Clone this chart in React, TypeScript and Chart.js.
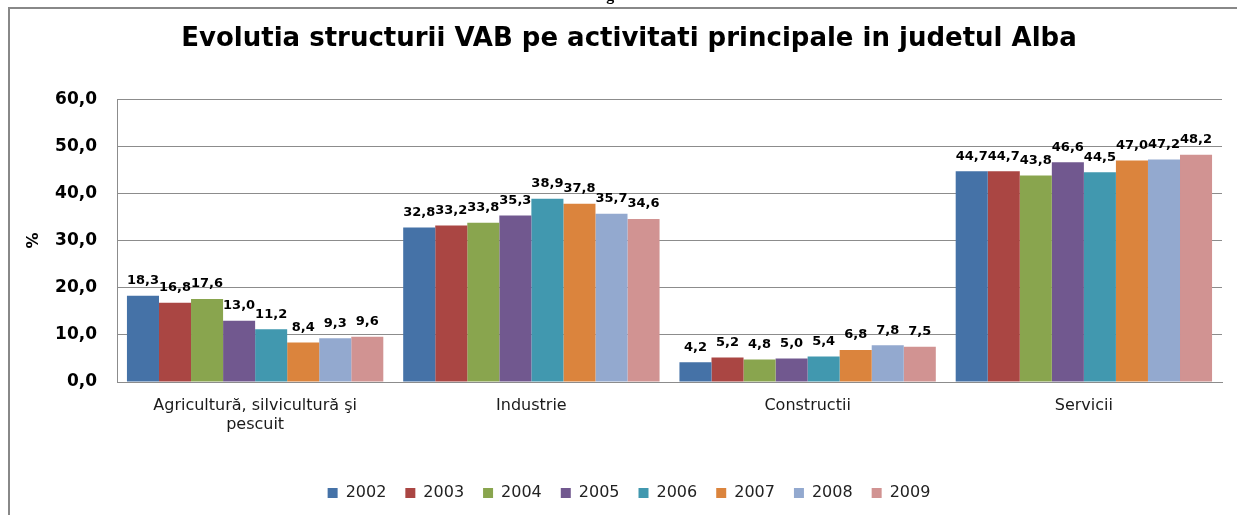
import React, { useEffect, useRef } from "react";
import { Chart, registerables } from "chart.js";

Chart.register(...registerables);

const TITLE = "Evolutia structurii VAB pe activitati principale in judetul Alba";
const FIG_LABEL = "Fig. 3";
const categories: (string | string[])[] = [
  ["Agricultură, silvicultură şi", "pescuit"],
  "Industrie",
  "Constructii",
  "Servicii",
];
const years = ["2002", "2003", "2004", "2005", "2006", "2007", "2008", "2009"];
const v2002 = [18.3, 32.8, 4.2, 44.7];
const v2003 = [16.8, 33.2, 5.2, 44.7];
const v2004 = [17.6, 33.8, 4.8, 43.8];
const v2005 = [13.0, 35.3, 5.0, 46.6];
const v2006 = [11.2, 38.9, 5.4, 44.5];
const v2007 = [8.4, 37.8, 6.8, 47.0];
const v2008 = [9.3, 35.7, 7.8, 47.2];
const v2009 = [9.6, 34.6, 7.5, 48.2];
const seriesValues = [v2002, v2003, v2004, v2005, v2006, v2007, v2008, v2009];
const colors = ["#4572A7", "#AA4643", "#89A54E", "#71588F", "#4198AF", "#DB843D", "#93A9CF", "#D19392"];
const yTicks = [0, 10, 20, 30, 40, 50, 60];

const fmt = (v: number) => v.toFixed(1).replace(".", ",");

const dataLabels = {
  id: "dataLabels",
  afterDatasetsDraw(chart: any) {
    const ctx = chart.ctx;
    ctx.save();
    ctx.font = "bold 13px 'DejaVu Sans'";
    ctx.fillStyle = "#000";
    ctx.textAlign = "center";
    ctx.textBaseline = "middle";
    chart.data.datasets.forEach((ds: any, di: number) => {
      const meta = chart.getDatasetMeta(di);
      meta.data.forEach((bar: any, i: number) => {
        ctx.fillText(fmt(ds.data[i]), bar.x, bar.y - 15);
      });
    });
    ctx.restore();
  },
};

export default function App() {
  const ref = useRef<HTMLCanvasElement>(null);
  useEffect(() => {
    if (!ref.current) return;
    const chart = new Chart(ref.current, {
      type: "bar",
      data: {
        labels: categories,
        datasets: years.map((y, i) => ({
          label: y,
          data: seriesValues[i],
          backgroundColor: colors[i],
          borderWidth: 0,
        })),
      },
      options: {
        responsive: false,
        animation: false,
        layout: { padding: { left: 36, right: 15, top: 0, bottom: 4 } },
        datasets: { bar: { categoryPercentage: 0.928, barPercentage: 1 } },
        plugins: {
          title: {
            display: true,
            text: TITLE,
            color: "#000",
            font: { family: "'DejaVu Sans'", size: 26, weight: "bold", lineHeight: 1.2 },
            padding: { top: 24, bottom: 44 },
          },
          legend: {
            position: "bottom",
            labels: {
              boxWidth: 10,
              boxHeight: 10,
              padding: 19,
              color: "#222",
              font: { family: "'DejaVu Sans'", size: 16 },
            },
          },
          tooltip: { enabled: false },
        },
        scales: {
          x: {
            grid: { display: false, drawTicks: false },
            border: { display: true, color: "#8c8c8c", width: 1 },
            ticks: {
              padding: 14,
              color: "#1a1a1a",
              maxRotation: 0,
              autoSkip: false,
              font: { family: "'DejaVu Sans'", size: 16, lineHeight: 1.2 },
            },
            afterFit: (s: any) => {
              s.height = 84;
            },
          },
          y: {
            min: 0,
            max: 60,
            afterBuildTicks: (s: any) => {
              s.ticks = yTicks.map((v) => ({ value: v }));
            },
            grid: { color: "#8c8c8c", drawTicks: false },
            border: { display: true, color: "#8c8c8c", width: 1 },
            ticks: {
              padding: 20,
              color: "#000",
              font: { family: "'DejaVu Sans'", size: 17, weight: "bold" },
              callback: (v: any) => fmt(Number(v)),
            },
            title: {
              display: true,
              text: "%",
              color: "#000",
              font: { family: "'DejaVu Sans'", size: 16, weight: "bold" },
              padding: { top: -12, bottom: 4 },
            },
            afterFit: (s: any) => {
              s.width = 81;
            },
          },
        },
      },
      plugins: [dataLabels],
    } as any);
    return () => chart.destroy();
  }, []);

  return (
    <>
      <div
        style={{
          position: "fixed",
          left: 592,
          top: -14,
          fontFamily: "'Liberation Serif', serif",
          fontWeight: "bold",
          fontSize: 16,
          color: "#000",
          whiteSpace: "nowrap",
        }}
      >
        {FIG_LABEL}
      </div>
      <div
        style={{
          position: "fixed",
          left: 8,
          top: 7,
          width: 2000,
          height: 2000,
          borderLeft: "2px solid #888",
          borderTop: "2px solid #888",
        }}
      />
      <canvas
        ref={ref}
        width={1237}
        height={515}
        style={{ position: "fixed", left: 0, top: 0, width: 1237, height: 515 }}
      />
    </>
  );
}
